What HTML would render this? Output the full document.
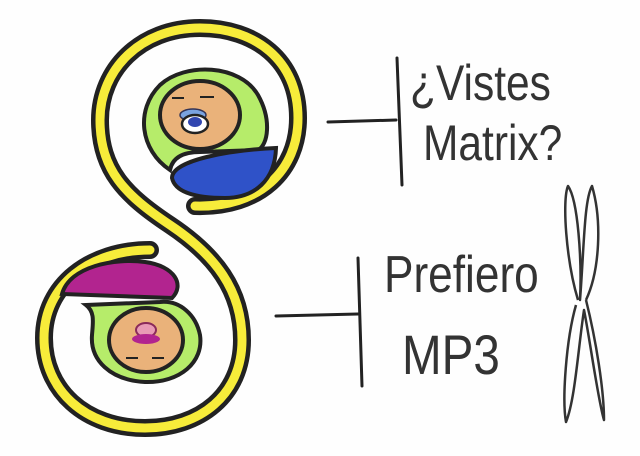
<!DOCTYPE html>
<html><head><meta charset="utf-8"><style>
html,body{margin:0;padding:0;background:#fff}
svg{display:block}
text{font-family:"Liberation Sans Narrow","Liberation Sans",sans-serif;fill:#333;}
</style></head><body>
<svg width="640" height="456" viewBox="0 0 640 456" xmlns="http://www.w3.org/2000/svg">
<rect width="640" height="456" fill="#fefefe"/>
<path d="M195 206 C260 208 298 170 298 118 C298 60 255 28 200 28 C140 28 100 70 100 120 C100 170 125 195 170 225 C215 255 242 290 242 340 C242 395 200 428 145 428 C85 428 44 390 44 338 C44 285 90 250 150 250"
 fill="none" stroke="#222" stroke-width="18" stroke-linecap="round"/>
<path d="M195 206 C260 208 298 170 298 118 C298 60 255 28 200 28 C140 28 100 70 100 120 C100 170 125 195 170 225 C215 255 242 290 242 340 C242 395 200 428 145 428 C85 428 44 390 44 338 C44 285 90 250 150 250"
 fill="none" stroke="#f7ec3a" stroke-width="9" stroke-linecap="round"/>
<!-- top inner -->
<path d="M170 170 C140 150 135 110 160 85 C185 62 240 64 258 95 C272 120 268 145 258 150 L200 152 C180 152 172 160 170 170 Z" fill="#b6ec6a" stroke="#222" stroke-width="4"/>
<path d="M172 178 C172 160 230 150 276 148 C275 180 255 198 225 198 C195 198 175 192 172 178 Z" fill="#2f52c8" stroke="#222" stroke-width="4"/>
<ellipse cx="200" cy="115" rx="40" ry="34" fill="#eab27a" stroke="#222" stroke-width="4"/>
<line x1="172" y1="98" x2="184" y2="98" stroke="#222" stroke-width="2"/>
<line x1="200" y1="97" x2="214" y2="97" stroke="#222" stroke-width="2"/>
<ellipse cx="193" cy="115" rx="13" ry="6" fill="#7aa3e0" stroke="#335" stroke-width="1.5"/>
<ellipse cx="195" cy="124" rx="13" ry="9" fill="#fff" stroke="#222" stroke-width="2.5"/>
<ellipse cx="195" cy="122" rx="7" ry="5" fill="#3146b0"/>
<!-- bottom inner -->
<path d="M62 294 C70 266 115 258 145 262 C175 266 185 285 172 298 Z" fill="#b2248f" stroke="#222" stroke-width="4"/>
<path d="M86 305 L160 302 C180 300 196 315 200 335 C204 362 180 383 145 382 C110 380 90 360 92 335 C93 322 95 312 86 305 Z" fill="#b6ec6a" stroke="#222" stroke-width="4"/>
<ellipse cx="146" cy="340" rx="37" ry="32" fill="#eab27a" stroke="#222" stroke-width="4"/>
<ellipse cx="146" cy="330" rx="10" ry="7" fill="#e89ab5" stroke="#8a2a5a" stroke-width="2"/>
<ellipse cx="146" cy="339" rx="14" ry="5" fill="#b2248f"/>
<line x1="126" y1="358" x2="138" y2="358" stroke="#222" stroke-width="2"/>
<line x1="152" y1="358" x2="164" y2="358" stroke="#222" stroke-width="2"/>
<g stroke="#222" stroke-width="3" fill="none" stroke-linecap="round">
<line x1="328" y1="122" x2="396" y2="120"/>
<line x1="397" y1="58" x2="402" y2="185"/>
<line x1="276" y1="316" x2="358" y2="314"/>
<line x1="358" y1="258" x2="362" y2="386"/>
</g>
<text x="410" y="100" font-size="50" transform="translate(410 0) scale(0.85 1) translate(-410 0)">¿Vistes</text>
<text x="423" y="160" font-size="50" transform="translate(423 0) scale(0.85 1) translate(-423 0)">Matrix?</text>
<text x="384" y="292" font-size="52" transform="translate(384 0) scale(0.85 1) translate(-384 0)">Prefiero</text>
<text x="402" y="374" font-size="56" transform="translate(402 0) scale(0.85 1) translate(-402 0)">MP3</text>
<g stroke="#333" stroke-width="2.5" fill="none" stroke-linejoin="round">
<path d="M578 300 C566 260 562 200 568 186 C578 200 582 260 580 300 C584 250 584 200 592 186 C602 220 600 270 586 300"/>
<path d="M576 305 C566 340 562 400 566 422 C575 400 578 350 584 310 C590 340 598 400 604 420 C604 390 596 340 586 300"/>
</g>
</svg>
</body></html>
